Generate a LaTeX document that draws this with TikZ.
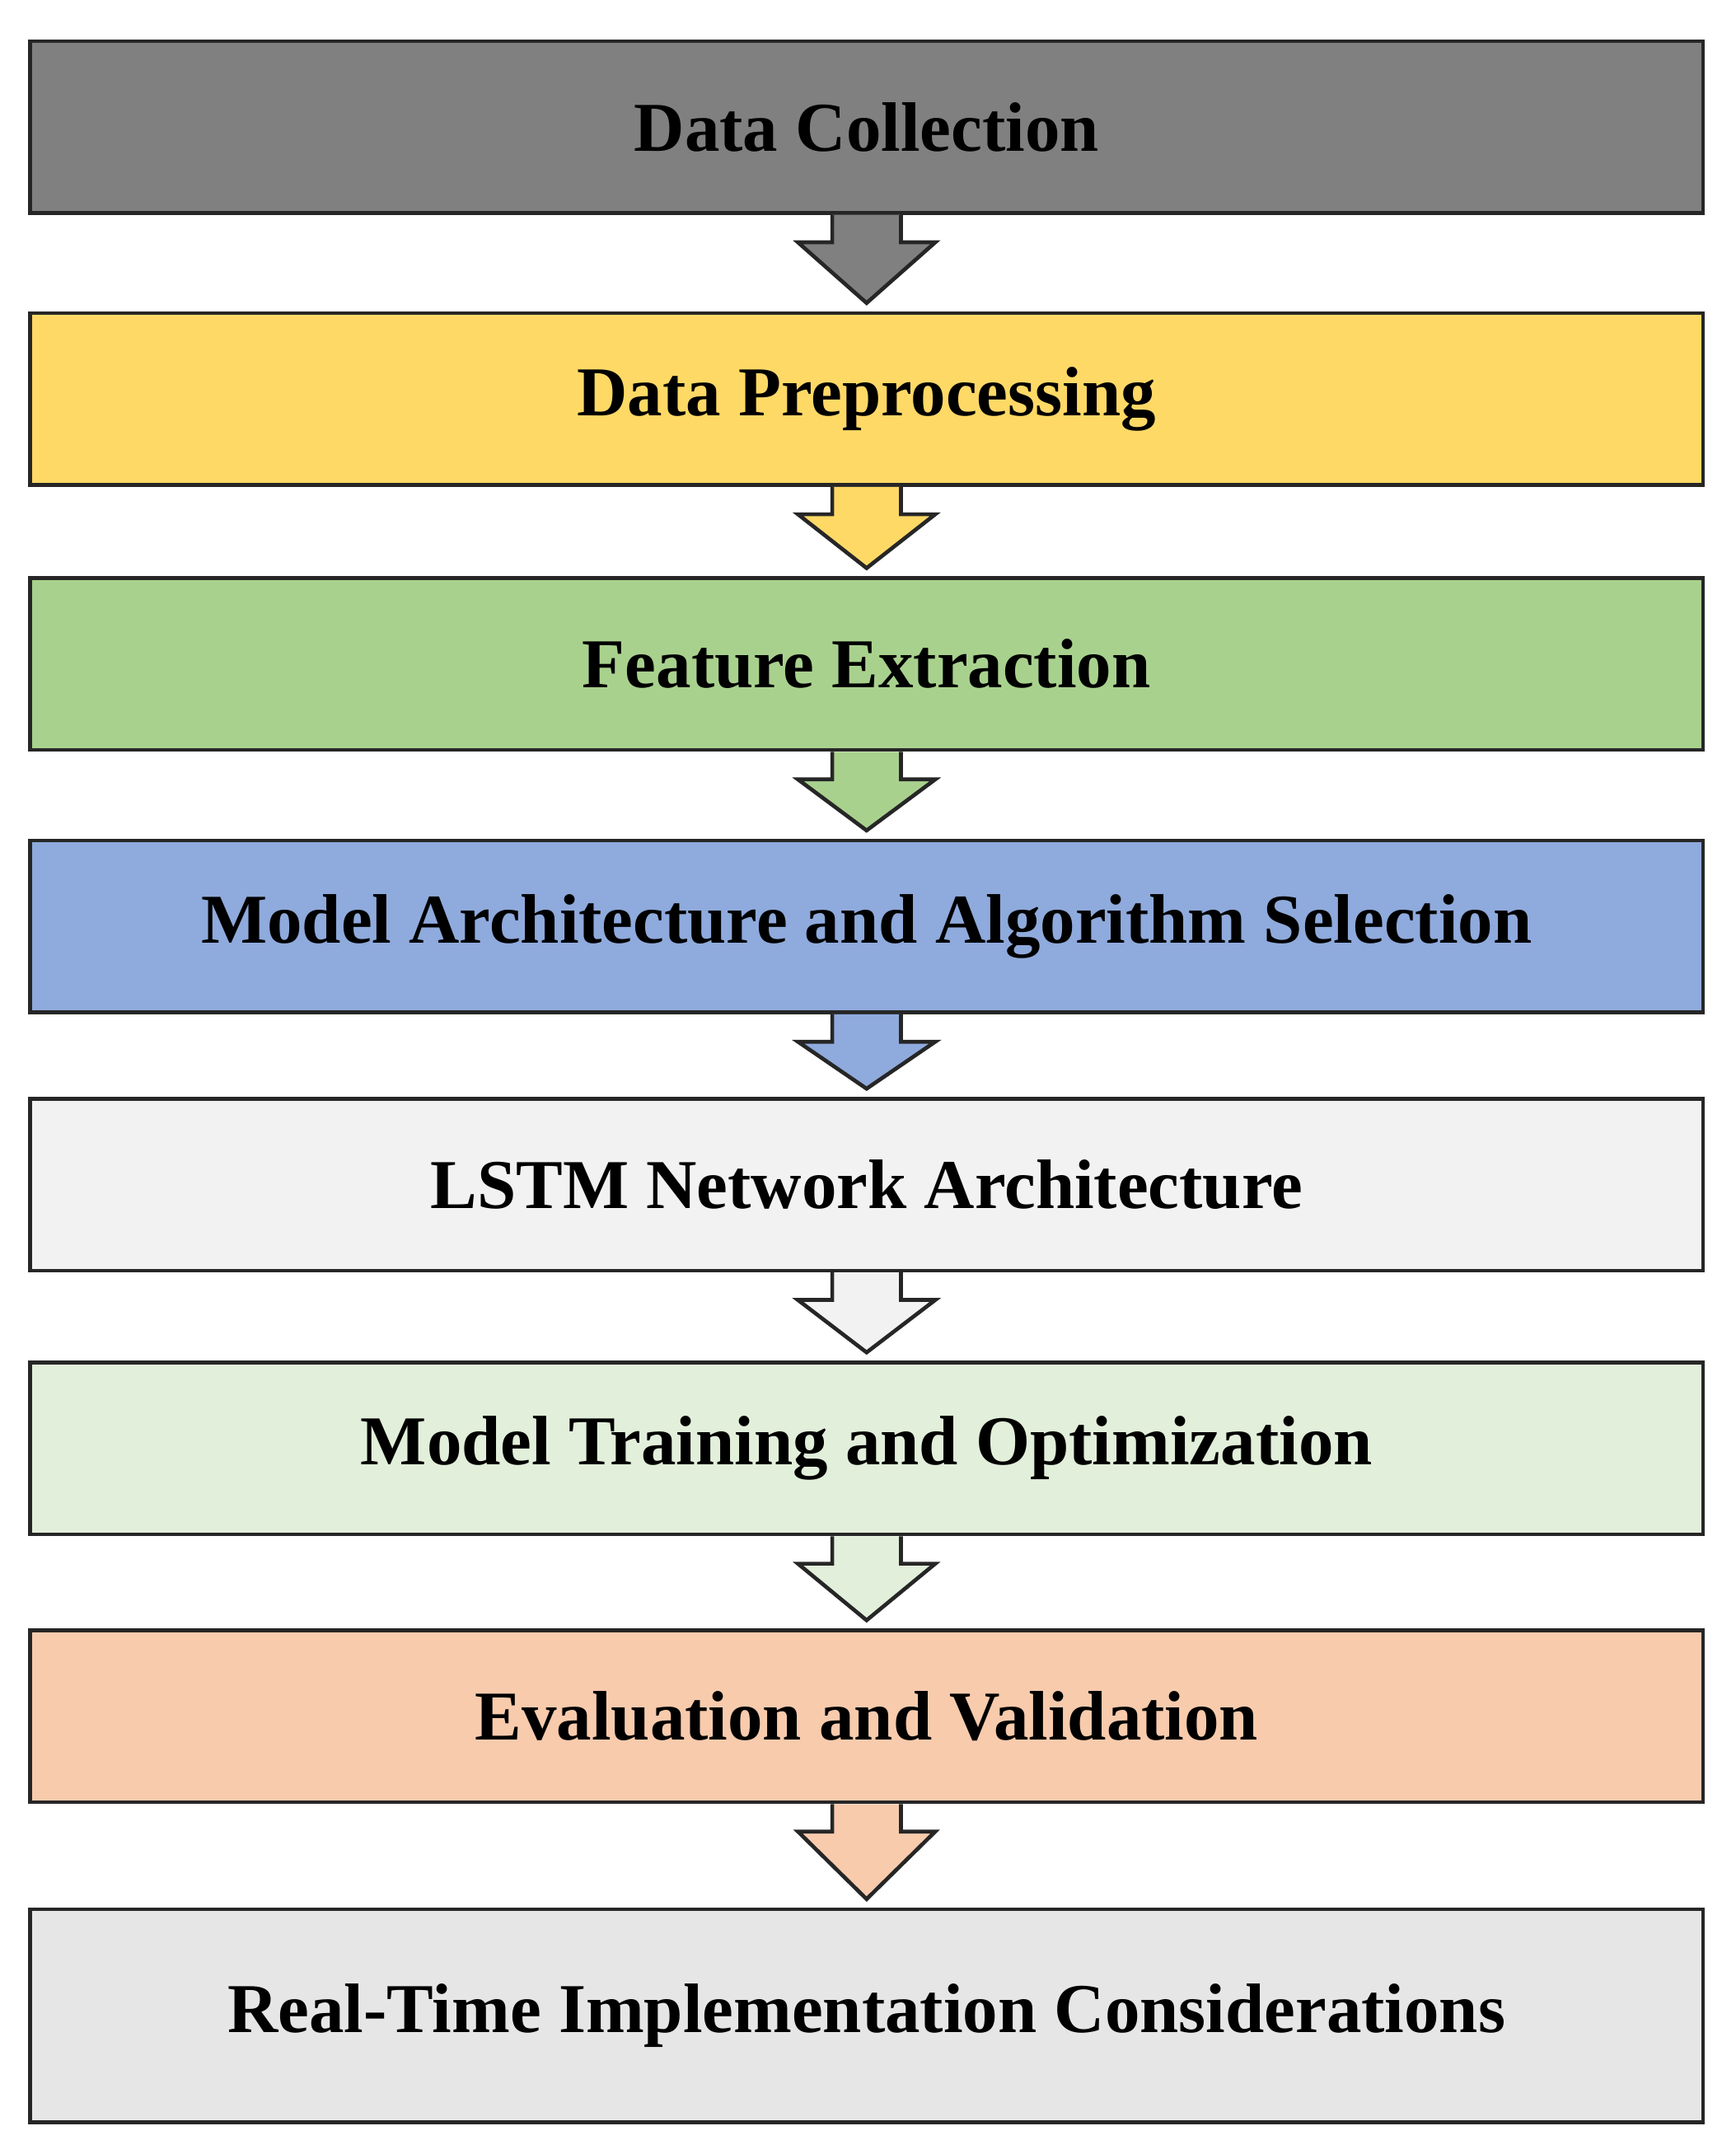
\documentclass[tikz,border=0pt]{standalone}
\usepackage{fontspec}
\setmainfont{Liberation Serif}
\usetikzlibrary{calc}
\definecolor{cgray}{HTML}{808080}
\definecolor{cyellow}{HTML}{FFD966}
\definecolor{cgreen}{HTML}{A9D18E}
\definecolor{cblue}{HTML}{8FAADC}
\definecolor{cwhite}{HTML}{F2F2F2}
\definecolor{cpale}{HTML}{E2EFDA}
\definecolor{cpeach}{HTML}{F8CBAD}
\definecolor{clight}{HTML}{E6E6E6}
\definecolor{cline}{HTML}{262626}
\tikzset{
  stage/.style={draw=cline, line width=1.6pt, minimum width=24.36cm, minimum height=2.5cm,
    font=\fontsize{29}{34}\selectfont\bfseries, inner sep=0pt},
}
\newcommand{\flowarrow}[3]{%
  \draw [line width=1.6pt, draw=cline, fill=#3, line join=miter]
    ($(#1.south)+(-0.5,0)$) -- ++(0,-0.4) -- ++(-0.5,0) -- ($(#2.north)+(0,0.12)$)
    -- ($(#1.south)+(1,-0.4)$) -- ++(-0.5,0) -- ($(#1.south)+(0.5,0)$);}
\begin{document}
\begin{tikzpicture}
\useasboundingbox (0,0) rectangle (25.28,-31.16);
% stages
\node [stage, fill=cgray] (collect) at (12.62,-1.85) {Data Collection};
\node [stage, fill=cyellow] (prep) at (12.62,-5.81) {Data Preprocessing};
\node [stage, fill=cgreen] (feat) at (12.62,-9.67) {Feature Extraction};
\node [stage, fill=cblue] (model) at (12.62,-13.49) {Model Architecture and Algorithm Selection};
\node [stage, fill=cwhite] (lstm) at (12.62,-17.25) {LSTM Network Architecture};
\node [stage, fill=cpale] (train) at (12.62,-21.09) {Model Training and Optimization};
\node [stage, fill=cpeach] (eval) at (12.62,-24.99) {Evaluation and Validation};
\node [stage, fill=clight, minimum height=3.1cm] (real) at (12.62,-29.35) {Real-Time Implementation Considerations};
% arrows
\flowarrow{collect}{prep}{cgray}
\flowarrow{prep}{feat}{cyellow}
\flowarrow{feat}{model}{cgreen}
\flowarrow{model}{lstm}{cblue}
\flowarrow{lstm}{train}{cwhite}
\flowarrow{train}{eval}{cpale}
\flowarrow{eval}{real}{cpeach}
\end{tikzpicture}
\end{document}
